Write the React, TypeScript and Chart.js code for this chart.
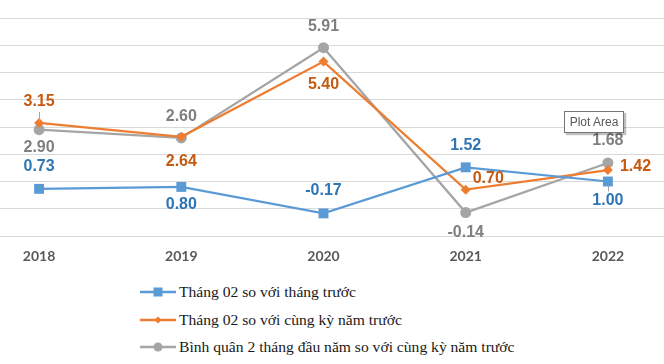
import React, { useEffect, useRef } from "react";
import { Chart, registerables } from "chart.js";

Chart.register(...registerables);

// ---- data ----
const categories = ["2018", "2019", "2020", "2021", "2022"];
const monthVsPrevMonth = [0.73, 0.8, -0.17, 1.52, 1.0];
const monthVsSamePeriod = [3.15, 2.64, 5.4, 0.7, 1.42];
const twoMonthAvgVsSamePeriod = [2.9, 2.6, 5.91, -0.14, 1.68];
const seriesNames = [
  "Tháng 02 so với tháng trước",
  "Tháng 02 so với cùng kỳ năm trước",
  "Bình quân 2 tháng đầu năm so với cùng kỳ năm trước",
];
const yMin = -1;
const yMax = 7;
const yStep = 1;

// ---- styles ----
const lineColors = ["#5B9BD5", "#ED7D31", "#A5A5A5"];
const labelColors = ["#2E75B6", "#C55A11", "#7F7F7F"];
const pointStyles = ["rect", "rectRot", "circle"];
const pointRadii = [7, 5, 5.5];
// label placement per point: [align, dx, dy]
const labelPlacement: [string, number, number][][] = [
  [["center", 0, -22], ["center", 0, 18], ["center", 0, -23], ["center", 0, -22], ["center", 0, 19]],
  [["center", 0, -21], ["center", 0, 25], ["center", 0, 23], ["left", 7, -11], ["left", 12, -3]],
  [["center", 0, 18], ["center", 0, -21], ["center", 0, -21], ["center", 0, 20], ["center", 0, -22]],
];
// leader lines: [datasetIndex, pointIndex, fromDy, toDy]
const leaderLines: [number, number, number, number][] = [
  [1, 0, -11, -1],
  [0, 4, 4, 10],
];

const valueLabelPlugin = {
  id: "valueLabels",
  afterDatasetsDraw(chart: any) {
    const ctx = chart.ctx;
    leaderLines.forEach(([di, i, a, b]) => {
      const pt = chart.getDatasetMeta(di).data[i];
      ctx.save();
      ctx.strokeStyle = "#A6A6A6";
      ctx.lineWidth = 1;
      ctx.beginPath();
      ctx.moveTo(Math.round(pt.x) + 0.5, pt.y + a);
      ctx.lineTo(Math.round(pt.x) + 0.5, pt.y + b);
      ctx.stroke();
      ctx.restore();
    });
    chart.data.datasets.forEach((ds: any, di: number) => {
      const meta = chart.getDatasetMeta(di);
      meta.data.forEach((pt: any, i: number) => {
        const [align, dx, dy] = labelPlacement[di][i];
        ctx.save();
        ctx.font = "bold 16px 'Liberation Sans', Arial, sans-serif";
        ctx.fillStyle = labelColors[di];
        ctx.textAlign = align;
        ctx.textBaseline = "middle";
        ctx.fillText((ds.data[i] as number).toFixed(2), pt.x + dx, pt.y + dy);
        ctx.restore();
      });
    });
  },
};

function LegendMarker({ idx }: { idx: number }) {
  const c = lineColors[idx];
  let marker: any;
  if (idx === 0) marker = <rect x={13.5} y={5.5} width={9} height={9} fill={c} />;
  else if (idx === 1) marker = <rect x={15.5} y={7.5} width={5} height={5} fill={c} transform="rotate(45 18 10)" />;
  else marker = <circle cx={18} cy={10} r={4.5} fill={c} />;
  return (
    <svg width={36} height={20} style={{ position: "absolute", left: 0, top: 0 }}>
      <line x1={0} y1={10} x2={36} y2={10} stroke={c} strokeWidth={2.5} />
      {marker}
    </svg>
  );
}

export default function App() {
  const canvasRef = useRef<HTMLCanvasElement | null>(null);

  useEffect(() => {
    if (!canvasRef.current) return;
    const series = [monthVsPrevMonth, monthVsSamePeriod, twoMonthAvgVsSamePeriod];
    const chart = new Chart(canvasRef.current, {
      type: "line",
      data: {
        labels: categories,
        datasets: series.map((d, i) => ({
          label: seriesNames[i],
          data: d,
          borderColor: lineColors[i],
          backgroundColor: lineColors[i],
          borderWidth: 2.25,
          pointStyle: pointStyles[i] as any,
          pointRadius: pointRadii[i],
          pointBorderWidth: 0,
          pointBackgroundColor: lineColors[i],
          tension: 0,
          fill: false,
        })),
      },
      options: {
        responsive: false,
        animation: false,
        layout: { autoPadding: false, padding: { top: 18, bottom: 0, left: 0, right: 0 } },
        plugins: {
          legend: { display: false },
          tooltip: { enabled: false },
        },
        scales: {
          x: {
            type: "category",
            offset: true,
            grid: { display: false, drawTicks: false },
            border: { display: false },
            ticks: {
              color: "#595959",
              padding: 12,
              font: { family: "Lato, 'Open Sans', sans-serif", size: 14, weight: "bold" },
            },
            afterFit(scale: any) {
              scale.height = 34;
            },
          },
          y: {
            min: yMin,
            max: yMax,
            ticks: { display: false, stepSize: yStep },
            grid: { color: "#D9D9D9", lineWidth: 1, drawTicks: false },
            border: { display: false },
            afterFit(scale: any) {
              scale.width = 0;
            },
          },
        },
      },
      plugins: [valueLabelPlugin],
    });
    return () => chart.destroy();
  }, []);

  const legendRowCenters = [292, 320, 347];

  return (
    <div
      style={{
        position: "absolute",
        left: 0,
        top: 0,
        width: 664,
        height: 364,
        overflow: "hidden",
        background: "#ffffff",
      }}
    >
      <div style={{ position: "absolute", left: -32, top: 0, width: 711, height: 270 }}>
        <canvas ref={canvasRef} width={711} height={270} style={{ display: "block" }} />
      </div>
      {seriesNames.map((name, i) => (
        <div
          key={name}
          style={{ position: "absolute", left: 140, top: legendRowCenters[i] - 10, height: 20, width: 500 }}
        >
          <LegendMarker idx={i} />
          <span
            style={{
              position: "absolute",
              left: 39,
              top: 0,
              lineHeight: "20px",
              fontFamily: "'Liberation Serif', 'Times New Roman', serif",
              fontSize: 15.6,
              color: "#1a1a1a",
              whiteSpace: "nowrap",
            }}
          >
            {name}
          </span>
        </div>
      ))}
      <div
        style={{
          position: "absolute",
          left: 564,
          top: 111,
          width: 58,
          height: 20,
          border: "1px solid #767676",
          background: "#ffffff",
          boxShadow: "2px 2px 1px rgba(0,0,0,0.25)",
          fontFamily: "'Liberation Sans', Arial, sans-serif",
          fontSize: 12,
          lineHeight: "20px",
          color: "#575757",
          textAlign: "center",
          whiteSpace: "nowrap",
        }}
      >
        Plot Area
      </div>
    </div>
  );
}
